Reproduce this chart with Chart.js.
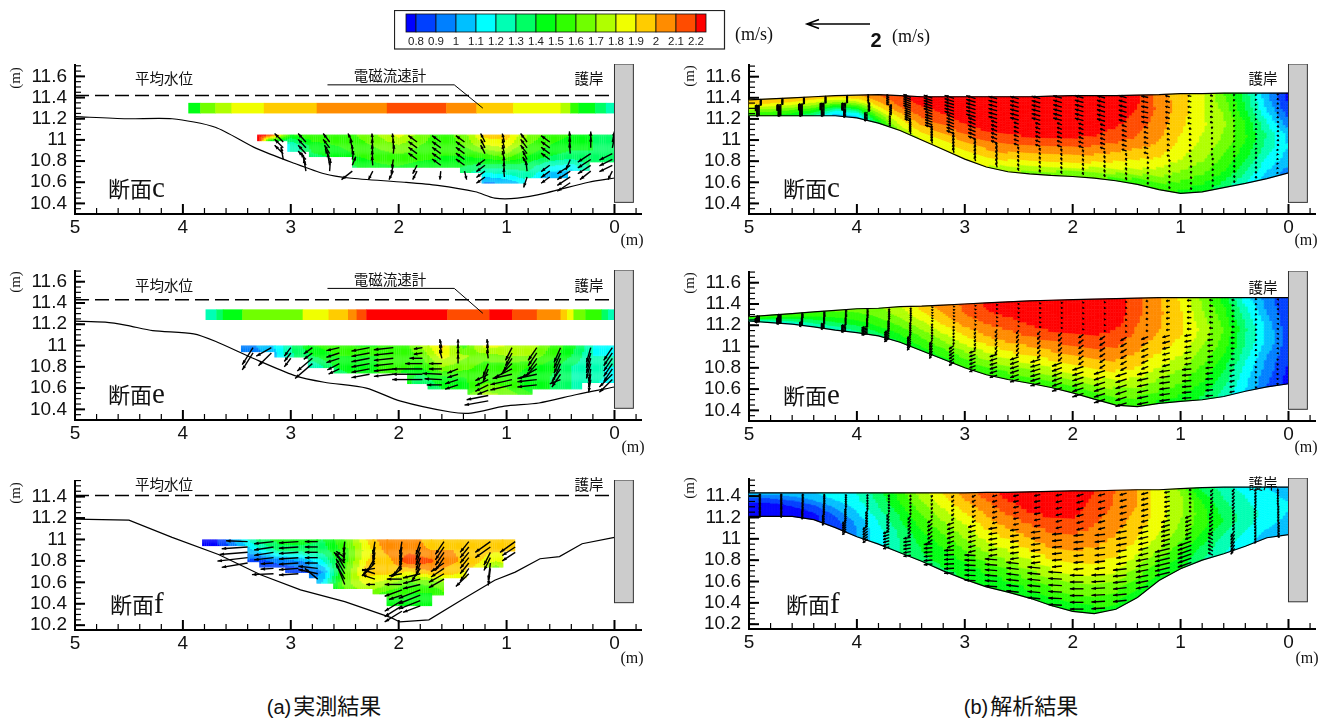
<!DOCTYPE html>
<html>
<head>
<meta charset="utf-8">
<script src="https://cdn.jsdelivr.net/npm/chart.js@4"></script>
<style>
  body { margin: 0; background: #fff; width: 1333px; height: 718px; position: relative; overflow: hidden; }
  canvas { position: absolute; }
  .t { position: absolute; white-space: nowrap; transform: translate(-50%, -50%); color: #111; }
  .jp { font-family: "Noto Sans CJK JP"; font-size: 14.5px; }
  .unit { font-family: "Liberation Serif"; font-size: 16px; }
  .sec { font-family: "Noto Sans CJK JP"; font-size: 22px; transform: translate(0, -50%); }
  .sec i { font-family: "Liberation Serif"; font-style: normal; font-size: 29px; }
  .cap { font-family: "Noto Sans CJK JP"; font-size: 22px; }
  .cap span { font-family: "Liberation Sans"; font-size: 20px; display: inline-block; margin-right: 2px; }
</style>
</head>
<body>
<script>
// colour key
const speedLevels = [0.8, 0.9, 1, 1.1, 1.2, 1.3, 1.4, 1.5, 1.6, 1.7, 1.8, 1.9, 2, 2.1, 2.2]
const speedColors = ['#0000ff', '#0040ff', '#0080ff', '#00c0ff', '#00ffff', '#00ffb4', '#00ff64', '#00ff14',
  '#30ff00', '#70ff00', '#b0ff00', '#f0ff00', '#ffcc00', '#ff8c00', '#ff4c00', '#ff0000']
const keySpeed = 2

// axis ticks
const xMajorTicks = [5, 4, 3, 2, 1, 0]
const xMinorTicks = [4.8, 4.6, 4.4, 4.2, 3.8, 3.6, 3.4, 3.2, 2.8, 2.6, 2.4, 2.2, 1.8, 1.6, 1.4, 1.2, 0.8, 0.6, 0.4, 0.2, -0.2]
const yMajorTicksTall = [11.6, 11.4, 11.2, 11, 10.8, 10.6, 10.4]
const yMajorTicksF = [11.4, 11.2, 11, 10.8, 10.6, 10.4, 10.2]

// model mesh stations (m from the revetment), flow arrows sit between them
const stations = [5, 4.8, 4.6, 4.4, 4.2, 4, 3.8, 3.6, 3.4, 3.2, 3, 2.8, 2.6, 2.4, 2.2, 2, 1.8, 1.6, 1.4, 1.2, 1, 0.8, 0.6, 0.4, 0.2, 0]
const arrowStations = [4.9, 4.7, 4.5, 4.3, 4.1, 3.9, 3.7, 3.5, 3.3, 3.1, 2.9, 2.7, 2.5, 2.3, 2.1, 1.9, 1.7, 1.5, 1.3, 1.1, 0.9, 0.7, 0.5, 0.3, 0.1]

// section c, model
const cSurface = [11.38, 11.39, 11.4, 11.41, 11.42, 11.425, 11.43, 11.42, 11.41, 11.41, 11.41, 11.41, 11.41, 11.41, 11.415, 11.42, 11.42, 11.42, 11.425, 11.43, 11.44, 11.44, 11.445, 11.445, 11.445, 11.445]
const cBed = [11.23, 11.23, 11.23, 11.23, 11.23, 11.21, 11.16, 11.09, 11, 10.91, 10.82, 10.745, 10.7, 10.68, 10.665, 10.655, 10.64, 10.615, 10.58, 10.53, 10.495, 10.51, 10.55, 10.59, 10.635, 10.69]
const cSpeed = [
  [2, 1.95, 1.9, 1.8, 1.7, 1.6, 1.5], [2, 1.95, 1.88, 1.78, 1.68, 1.58, 1.5], [2, 1.95, 1.85, 1.75, 1.62, 1.52, 1.45],
  [1.98, 1.9, 1.8, 1.68, 1.55, 1.42, 1.3], [1.95, 1.85, 1.7, 1.5, 1.3, 1.15, 1.05], [2, 1.9, 1.75, 1.55, 1.35, 1.15, 1.05],
  [2.1, 2.05, 1.95, 1.85, 1.7, 1.55, 1.4], [2.2, 2.15, 2.1, 2, 1.9, 1.82, 1.72], [2.25, 2.22, 2.15, 2.1, 2, 1.9, 1.8],
  [2.28, 2.25, 2.2, 2.12, 2.02, 1.9, 1.82], [2.28, 2.26, 2.24, 2.18, 2.05, 1.92, 1.82], [2.28, 2.27, 2.25, 2.2, 2.08, 1.92, 1.8],
  [2.28, 2.27, 2.26, 2.2, 2.08, 1.92, 1.72], [2.28, 2.27, 2.26, 2.22, 2.08, 1.9, 1.65], [2.28, 2.28, 2.26, 2.22, 2.08, 1.9, 1.62],
  [2.28, 2.28, 2.26, 2.22, 2.08, 1.9, 1.6], [2.27, 2.27, 2.25, 2.2, 2.05, 1.88, 1.6], [2.25, 2.25, 2.22, 2.15, 2, 1.85, 1.55],
  [2.22, 2.2, 2.15, 2.08, 1.95, 1.8, 1.5], [2.05, 2.08, 2.05, 2, 1.9, 1.75, 1.5], [1.95, 1.95, 1.92, 1.88, 1.8, 1.65, 1.48],
  [1.82, 1.82, 1.82, 1.78, 1.72, 1.6, 1.42], [1.6, 1.68, 1.72, 1.68, 1.6, 1.5, 1.35], [1.35, 1.4, 1.5, 1.52, 1.45, 1.35, 1.2],
  [1.02, 1.08, 1.2, 1.3, 1.25, 1.15, 1.05], [0.75, 0.8, 0.9, 1.05, 1.1, 1.05, 0.95]
]
const cFlowU = [[-0.08, 0.2, 0.15], [-0.08, 0.2, 0.15], [-0.08, 0.2, 0.15], [-0.08, 0.2, 0.15], [-0.08, 0.2, 0.12], [-0.05, -0.1, 0.15], [0.12, -0.1, -0.05],
  [0.3, 0.25, 0.05], [0.35, 0.3, 0.05], [0.38, 0.3, 0.05], [0.38, 0.3, 0.05], [0.35, 0.25, 0.05], [0.35, 0.2, 0.04], [0.35, 0.2, 0.04],
  [0.35, 0.2, 0.04], [0.35, 0.2, 0.04], [0.33, 0.2, 0.04], [0.32, 0.2, 0.04], [0.28, 0.18, 0.03], [0.18, 0.12, 0.03], [0.15, 0.1, 0.03],
  [0.12, 0.08, 0.02], [0.05, 0.04, 0.02], [0.03, 0.01, 0.01], [0, -0.02, 0.02]]
const cFlowV = [[-0.03, -0.03, -0.03], [-0.03, -0.03, -0.03], [-0.03, -0.03, -0.03], [-0.03, -0.03, -0.03], [-0.03, -0.03, -0.03], [0.05, 0.05, -0.03], [0.05, 0.08, 0.05],
  [0.12, 0.1, 0.2], [0.12, 0.1, 0.2], [0.12, 0.12, 0.2], [0.12, 0.12, 0.2], [0.1, 0.1, 0.2], [0.1, 0.08, 0.12], [0.1, 0.08, 0.12],
  [0.1, 0.08, 0.12], [0.1, 0.08, 0.12], [0.1, 0.08, 0.12], [0.1, 0.08, 0.12], [0.06, 0.06, 0.1], [0.05, 0.05, 0.1], [0.03, 0.05, 0.1],
  [0.03, 0.04, 0.1], [0.05, 0.05, 0.1], [0.06, 0.06, 0.1], [0.08, 0.08, 0.06]]

// section e, model
const eSurface = [11.28, 11.295, 11.31, 11.325, 11.34, 11.355, 11.36, 11.375, 11.38, 11.39, 11.4, 11.41, 11.42, 11.43, 11.435, 11.44, 11.445, 11.45, 11.455, 11.46, 11.46, 11.46, 11.46, 11.46, 11.46, 11.46]
const eBed = [11.24, 11.225, 11.21, 11.185, 11.155, 11.13, 11.1, 11.04, 10.96, 10.88, 10.8, 10.735, 10.69, 10.655, 10.615, 10.565, 10.505, 10.45, 10.435, 10.465, 10.485, 10.5, 10.53, 10.58, 10.62, 10.65]
const eSpeed = [
  [1.65, 1.62, 1.55, 1.5, 1.4, 1.3, 1.2], [1.6, 1.58, 1.5, 1.42, 1.35, 1.25, 1.2], [1.6, 1.55, 1.5, 1.42, 1.35, 1.25, 1.15],
  [1.6, 1.55, 1.5, 1.42, 1.35, 1.28, 1.2], [1.62, 1.58, 1.52, 1.45, 1.38, 1.3, 1.2], [1.62, 1.6, 1.55, 1.5, 1.42, 1.35, 1.28],
  [1.68, 1.65, 1.6, 1.55, 1.5, 1.42, 1.35], [1.78, 1.75, 1.7, 1.62, 1.55, 1.48, 1.4], [1.95, 1.88, 1.8, 1.72, 1.62, 1.55, 1.45],
  [2.05, 2, 1.92, 1.82, 1.7, 1.58, 1.48], [2.12, 2.1, 2.02, 1.9, 1.78, 1.62, 1.5], [2.22, 2.18, 2.08, 1.98, 1.82, 1.68, 1.5],
  [2.28, 2.22, 2.12, 2.02, 1.88, 1.7, 1.5], [2.28, 2.27, 2.18, 2.05, 1.9, 1.72, 1.5], [2.28, 2.28, 2.22, 2.08, 1.92, 1.75, 1.5],
  [2.28, 2.28, 2.22, 2.1, 1.95, 1.75, 1.5], [2.28, 2.28, 2.22, 2.1, 1.95, 1.75, 1.5], [2.28, 2.27, 2.18, 2.08, 1.92, 1.72, 1.48],
  [2.12, 2.12, 2.08, 2, 1.88, 1.7, 1.5], [2.02, 2.02, 2, 1.92, 1.8, 1.65, 1.48], [1.88, 1.92, 1.92, 1.85, 1.72, 1.6, 1.45],
  [1.68, 1.72, 1.78, 1.7, 1.6, 1.5, 1.38], [1.45, 1.55, 1.6, 1.55, 1.45, 1.35, 1.25], [1.15, 1.25, 1.32, 1.3, 1.22, 1.15, 1.1],
  [0.95, 1, 1.08, 1.08, 1, 0.95, 0.9], [0.8, 0.8, 0.82, 0.85, 0.82, 0.78, 0.75]
]
const eFlowU = [[0.15, 0.2, 0.2], [0.15, 0.2, 0.2], [0.05, 0.08, 0.15], [0.02, 0.05, 0.15], [0.02, 0.05, 0.2], [0.01, 0.05, 0.25], [0.01, 0.05, 0.2],
  [0.01, 0.04, 0.15], [0.01, 0.03, 0.12], [0.01, 0.03, 0.2], [0.02, 0.05, 0.25], [0.02, 0.08, 0.3], [0.02, 0.1, 0.35], [0.02, 0.12, 0.4],
  [0.02, 0.15, 0.4], [0.03, 0.2, 0.45], [0.03, 0.22, 0.45], [0.05, 0.25, 0.45], [0.1, 0.28, 0.45], [0.15, 0.3, 0.42], [0.18, 0.28, 0.38],
  [0.15, 0.22, 0.3], [0.12, 0.15, 0.2], [0.02, 0.02, 0.02], [-0.03, -0.02, 0.01]]
const eFlowV = [[-0.02, -0.03, -0.03], [-0.02, -0.03, -0.03], [-0.05, -0.05, -0.05], [-0.05, -0.05, -0.05], [-0.05, -0.05, -0.05], [-0.08, -0.08, -0.06], [-0.1, -0.15, -0.15],
  [-0.1, -0.15, -0.2], [-0.05, -0.1, -0.2], [-0.05, -0.1, -0.15], [-0.05, -0.12, -0.1], [-0.05, -0.15, -0.1], [-0.05, -0.15, -0.12], [-0.06, -0.15, -0.12],
  [-0.05, -0.15, -0.15], [-0.05, -0.15, -0.15], [-0.05, -0.15, -0.15], [-0.05, -0.15, -0.15], [-0.02, -0.12, -0.1], [-0.02, -0.08, -0.06], [0, -0.05, -0.03],
  [0.02, -0.03, -0.03], [0.02, 0, -0.05], [0.08, 0.08, -0.08], [0.06, 0.05, -0.08]]

// section f, model
const fSurface = [11.43, 11.43, 11.43, 11.43, 11.43, 11.43, 11.43, 11.43, 11.43, 11.43, 11.43, 11.435, 11.435, 11.44, 11.445, 11.45, 11.45, 11.455, 11.46, 11.46, 11.47, 11.48, 11.485, 11.485, 11.485, 11.485]
const fBed = [11.21, 11.21, 11.21, 11.18, 11.105, 11.02, 10.95, 10.87, 10.79, 10.7, 10.62, 10.55, 10.5, 10.445, 10.375, 10.32, 10.3, 10.34, 10.45, 10.61, 10.72, 10.8, 10.86, 10.93, 11.01, 11.04]
const fSpeed = [
  [1.05, 0.95, 0.85, 0.75, 0.75, 0.75, 0.75], [1.05, 0.95, 0.85, 0.78, 0.75, 0.75, 0.75], [1.08, 1, 0.9, 0.82, 0.78, 0.75, 0.75],
  [1.1, 1.05, 0.98, 0.88, 0.82, 0.78, 0.78], [1.15, 1.12, 1.05, 0.98, 0.9, 0.85, 0.85], [1.2, 1.18, 1.12, 1.08, 1.02, 1, 1],
  [1.35, 1.32, 1.28, 1.22, 1.18, 1.15, 1.15], [1.55, 1.5, 1.42, 1.38, 1.32, 1.3, 1.3], [1.75, 1.68, 1.6, 1.52, 1.45, 1.4, 1.38],
  [1.92, 1.82, 1.72, 1.62, 1.52, 1.45, 1.38], [2.05, 1.95, 1.82, 1.72, 1.6, 1.48, 1.4], [2.15, 2.05, 1.95, 1.82, 1.68, 1.52, 1.4],
  [2.25, 2.15, 2.02, 1.88, 1.72, 1.55, 1.4], [2.28, 2.22, 2.08, 1.95, 1.78, 1.6, 1.42], [2.28, 2.25, 2.12, 2, 1.82, 1.62, 1.42],
  [2.28, 2.25, 2.12, 2, 1.82, 1.62, 1.42], [2.2, 2.15, 2.08, 1.98, 1.85, 1.62, 1.45], [2.1, 2.08, 2.02, 1.95, 1.82, 1.62, 1.45],
  [2, 2, 1.95, 1.88, 1.75, 1.6, 1.45], [1.85, 1.85, 1.85, 1.8, 1.7, 1.55, 1.45], [1.68, 1.75, 1.72, 1.68, 1.6, 1.5, 1.42],
  [1.35, 1.48, 1.55, 1.55, 1.48, 1.38, 1.3], [1.25, 1.3, 1.35, 1.4, 1.32, 1.25, 1.2], [1.15, 1.2, 1.22, 1.25, 1.22, 1.18, 1.12],
  [1.1, 1.12, 1.15, 1.18, 1.15, 1.1, 1.05], [1.05, 1.08, 1.1, 1.1, 1.08, 1.05, 1]
]
const fFlowU = [[0, 0, 0], [0.01, 0.01, 0.01], [0.02, 0.03, 0.05], [0.02, 0.05, 0.1], [0.02, 0.05, 0.15], [0.02, 0.08, 0.2], [0.03, 0.1, 0.25],
  [0.03, 0.12, 0.3], [0.05, 0.2, 0.35], [0.1, 0.28, 0.4], [0.15, 0.3, 0.45], [0.2, 0.35, 0.5], [0.22, 0.35, 0.5], [0.25, 0.38, 0.52],
  [0.25, 0.4, 0.55], [0.28, 0.4, 0.55], [0.28, 0.42, 0.55], [0.28, 0.42, 0.55], [0.28, 0.4, 0.5], [0.22, 0.35, 0.6], [0.1, 0.25, 0.55],
  [0.1, 0.15, 0.2], [0.1, 0.08, 0.15], [0.05, 0.08, 0.06], [-0.01, -0.04, -0.06]]
const fFlowV = [[-0.08, -0.08, -0.08], [-0.08, -0.08, -0.08], [-0.08, -0.08, -0.08], [-0.1, -0.1, -0.1], [-0.1, -0.15, -0.15], [-0.1, -0.15, -0.15], [-0.1, -0.15, -0.08],
  [-0.1, -0.15, -0.05], [-0.1, -0.15, -0.03], [-0.1, -0.1, -0.02], [-0.08, -0.08, 0.02], [-0.06, -0.06, 0.04], [-0.05, -0.05, 0.06], [-0.05, -0.05, 0.05],
  [-0.06, -0.04, 0.03], [-0.08, -0.04, 0], [-0.08, -0.05, -0.03], [-0.08, -0.08, -0.06], [-0.08, -0.1, -0.1], [-0.05, -0.1, -0.15], [0.02, -0.1, -0.2],
  [-0.12, -0.12, 0.1], [-0.12, -0.12, -0.25], [-0.12, -0.12, -0.12], [-0.12, -0.12, -0.12]]

// measured bed lines
const cBedX = [5, 4.52, 4.1, 3.7, 3.32, 2.97, 2.69, 2.46, 1.95, 1.64, 1.29, 1.11, 0.9, 0.63, 0.24, 0]
const cBedY = [11.22, 11.2, 11.2, 11.12, 10.92, 10.78, 10.68, 10.64, 10.6, 10.57, 10.51, 10.45, 10.45, 10.5, 10.6, 10.64]
const eBedX = [5, 4.72, 4.52, 4.28, 3.9, 3.7, 3.35, 2.97, 2.69, 2.3, 1.99, 1.52, 1.33, 1.02, 0.7, 0.35, 0]
const eBedY = [11.23, 11.22, 11.19, 11.14, 11.11, 11.04, 10.88, 10.72, 10.655, 10.6, 10.48, 10.375, 10.365, 10.43, 10.46, 10.54, 10.61]
const fBedX = [5, 4.5, 4.1, 3.67, 3.28, 2.91, 2.5, 2.07, 1.99, 1.72, 1.41, 1.11, 0.92, 0.69, 0.51, 0.3, 0]
const fBedY = [11.19, 11.18, 11.02, 10.86, 10.67, 10.53, 10.42, 10.27, 10.23, 10.25, 10.44, 10.62, 10.695, 10.82, 10.84, 10.96, 11.02]

// current meter strip near the surface
const cStripEdges = [3.95, 3.84, 3.7, 3.55, 3.25, 2.76, 2.11, 1.56, 1.28, 0.94, 0.5, 0.41, 0.335, 0.18, 0.08, 0]
const cStripSpeed = [1.45, 1.6, 1.7, 1.85, 1.95, 2.05, 2.15, 2.05, 1.95, 1.85, 1.7, 1.55, 1.45, 1.35, 1.25]
const eStripEdges = [3.79, 3.69, 3.63, 3.45, 2.89, 2.65, 2.47, 2.39, 2.3, 1.55, 1.16, 0.95, 0.72, 0.5, 0.44, 0.38, 0.27, 0.12, 0.06, 0]
const eStripSpeed = [1.2, 1.3, 1.45, 1.65, 1.82, 1.95, 2.05, 2.15, 2.25, 2.15, 2.25, 2.15, 2.05, 1.95, 1.85, 1.65, 1.5, 1.35, 1.2]

// measured speed tables, one line per x node, top level first
const cMeasX = [0, 0.2, 0.4, 0.6, 0.8, 1, 1.2, 1.4, 1.6, 1.8, 2, 2.2, 2.4, 2.6, 2.8, 3, 3.2, 3.3]
const cMeasLevels = [11.05, 10.95, 10.85, 10.75, 10.65, 10.55]
const cMeasSpeed = [
  [1.3, 1.3, 1.35, 1.4, 1.4, 1.4], [1.4, 1.4, 1.4, 1.35, 1.3, 1.3], [1.5, 1.45, 1.35, 1.15, 1, 1], [1.55, 1.5, 1.4, 1.2, 1, 1],
  [1.7, 1.6, 1.5, 1.35, 1.25, 1.1], [1.95, 1.85, 1.65, 1.35, 1.15, 0.9], [1.95, 1.8, 1.55, 1.35, 1.1, 0.9], [1.65, 1.6, 1.5, 1.4, 1.3, 1.3],
  [1.55, 1.55, 1.5, 1.45, 1.4, 1.4], [1.65, 1.6, 1.55, 1.45, 1.4, 1.4], [1.85, 1.7, 1.58, 1.5, 1.45, 1.45], [1.7, 1.62, 1.55, 1.48, 1.45, 1.45],
  [1.6, 1.55, 1.5, 1.4, 1.4, 1.4], [1.6, 1.5, 1.42, 1.3, 1.3, 1.3], [1.6, 1.45, 1.38, 1.3, 1.3, 1.3], [1.5, 1.2, 1.2, 1.2, 1.2, 1.2],
  [2.25, 0.9, 1.2, 1.2, 1.2, 1.2], [2.25, 2.25, 1.2, 1.2, 1.2, 1.2]
]
const cMeasEdges = [0, 0.23, 0.43, 0.83, 1.23, 1.43, 2.43, 2.83, 3.03, 3.3]
const cMeasBottom = [10.8, 10.72, 10.65, 10.6, 10.7, 10.75, 10.85, 10.9, 11]

const eMeasX = [0, 0.2, 0.4, 0.6, 0.8, 1, 1.2, 1.4, 1.6, 1.8, 2, 2.2, 2.4, 2.6, 2.8, 3, 3.2, 3.45]
const eMeasLevels = [11, 10.9, 10.8, 10.7, 10.6, 10.5]
const eMeasSpeed = [
  [1.15, 1.2, 1.2, 1.15, 1.1, 1.1], [1.2, 1.2, 1.2, 1.25, 1.2, 1.2], [1.45, 1.4, 1.3, 1.3, 1.3, 1.3], [1.6, 1.55, 1.45, 1.4, 1.4, 1.4],
  [1.8, 1.7, 1.5, 1.45, 1.45, 1.6], [1.8, 1.7, 1.55, 1.55, 1.6, 1.75], [1.85, 1.65, 1.55, 1.55, 1.65, 1.8], [1.55, 1.72, 1.65, 1.5, 1.45, 1.6],
  [1.95, 1.85, 1.7, 1.48, 1.4, 1.4], [1.7, 1.6, 1.5, 1.35, 1.3, 1.3], [1.5, 1.55, 1.52, 1.5, 1.5, 1.5], [1.5, 1.5, 1.5, 1.5, 1.5, 1.5],
  [1.5, 1.5, 1.48, 1.4, 1.4, 1.4], [1.55, 1.5, 1.4, 1.3, 1.3, 1.3], [1.5, 1.4, 1.2, 1.2, 1.2, 1.2], [1.3, 1.28, 1.25, 1.2, 1.2, 1.2],
  [1.05, 1, 1.2, 1.2, 1.2, 1.2], [0.95, 0.95, 1.2, 1.2, 1.2, 1.2]
]
const eMeasEdges = [0, 0.3, 0.76, 1.35, 1.72, 1.92, 2.6, 2.83, 3.14, 3.45]
const eMeasBottom = [10.66, 10.6, 10.55, 10.6, 10.65, 10.75, 10.8, 10.9, 10.95]

const fMeasX = [0.9, 1.1, 1.3, 1.5, 1.7, 1.9, 2.1, 2.3, 2.5, 2.7, 2.9, 3.1, 3.3, 3.5, 3.7, 3.82]
const fMeasLevels = [11, 10.9, 10.8, 10.7, 10.6, 10.5, 10.4]
const fMeasSpeed = [
  [1.95, 1.95, 1.95, 1.9, 1.9, 1.9, 1.9], [1.95, 1.92, 1.8, 1.55, 1.55, 1.55, 1.55], [2, 1.95, 1.95, 1.85, 1.8, 1.8, 1.8], [1.95, 2, 2.02, 1.95, 1.75, 1.65, 1.65],
  [1.95, 2, 2.12, 2, 1.65, 1.5, 1.45], [2.05, 2.05, 2.2, 1.9, 1.6, 1.5, 1.45], [2.1, 2.05, 1.95, 1.95, 1.75, 1.55, 1.45], [1.9, 1.85, 1.9, 1.95, 1.85, 1.7, 1.6],
  [1.6, 1.55, 1.55, 1.6, 1.65, 1.6, 1.6], [1.4, 1.35, 1.2, 1, 1.1, 1.4, 1.4], [1.45, 1.35, 1, 0.85, 0.9, 0.9, 0.9], [1.45, 1.35, 0.95, 0.8, 0.8, 0.8, 0.8],
  [1.35, 1.15, 0.85, 0.8, 0.8, 0.8, 0.8], [1.05, 0.95, 0.9, 0.8, 0.8, 0.8, 0.8], [0.78, 0.75, 0.75, 0.75, 0.75, 0.75, 0.75], [0.75, 0.75, 0.75, 0.75, 0.75, 0.75, 0.75]
]
const fMeasEdges = [0.92, 1.03, 1.37, 1.58, 1.69, 2.1, 2.225, 2.6, 2.75, 2.83, 3.05, 3.28, 3.4, 3.81]
const fMeasBottom = [10.9, 10.75, 10.65, 10.49, 10.39, 10.5, 10.55, 10.6, 10.65, 10.695, 10.745, 10.8, 10.945]

// measured arrows, each column lists its arrows from the top level downward
const cArrowX = [3.07, 2.86, 2.64, 2.43, 2.24, 2.05, 1.83, 1.61, 1.39, 1.2, 1.02, 0.81, 0.6, 0.41, 0.22, 0.02]
const cArrowU = [[0.2, 0.2, 0.2, 0.05], [0.18, 0.18, 0.18, 0.18, 0.1, 0.05], [0.15, 0.15, 0.12, 0.1, 0.05, -0.02], [0.1, 0.05, 0, -0.03, -0.08, 0.25],
  [0.02, 0.02, 0.02, 0.02, 0.02, 0.1], [0.02, 0, -0.02, 0.03, 0.05, 0.1], [0.2, 0.2, 0.2, 0.2, 0.1, 0.1], [0.2, 0.2, 0.2, 0.2, 0.2, 0.02],
  [0.2, 0.2, 0.2, 0.2, 0.2, -0.05], [0.1, 0.1, 0.1, 0.2, 0.2, 0.2, 0.2], [0.05, 0.05, 0.05, 0.05, 0.02, 0.02, 0.02], [0.15, 0.15, 0.15, 0.1, 0.1, 0.03, 0.08],
  [0.2, 0.2, 0.2, 0.2, 0.2, 0.2, 0.2], [0.02, 0.02, 0.02, 0.1, 0.3, 0.3, 0.3, 0.3], [0, 0, 0.3, 0.3, 0.3, 0.25], [-0.05, -0.05, 0.3, 0.3, 0.3, 0.1]]
const cArrowV = [[0.2, 0.2, 0.2, 0.3], [0.2, 0.2, 0.2, 0.2, 0.3, 0.3], [0.2, 0.2, 0.2, 0.25, 0.3, 0.3], [0.2, 0.2, 0.2, 0.2, 0.2, -0.2],
  [0.2, 0.2, 0.2, 0.2, 0.2, -0.2], [0.2, 0.2, 0.2, -0.2, -0.2, -0.2], [0.15, 0.15, 0.15, 0.15, -0.2, -0.2], [0.15, 0.15, 0.15, 0.15, 0.15, -0.2],
  [0.15, 0.15, 0.15, 0.15, 0.15, -0.2], [0.2, 0.2, 0.2, -0.15, -0.15, -0.15, -0.15], [0.2, 0.2, 0.2, 0.2, 0.2, 0.2, 0.2], [0.2, 0.2, 0.2, 0.2, 0.2, 0.25, -0.25],
  [0.15, 0.15, 0.15, 0.15, -0.15, -0.15, -0.15], [0.25, 0.25, 0.25, -0.25, -0.2, -0.2, -0.2, -0.2], [0.25, 0.25, -0.2, -0.2, -0.2, -0.2], [0.25, 0.25, -0.15, -0.15, -0.15, -0.2]]

const eArrowX = [3.35, 3.18, 3, 2.8, 2.55, 2.27, 2.05, 1.78, 1.6, 1.45, 1.17, 0.95, 0.72, 0.5, 0.22, 0.02]
const eArrowU = [[0.25, 0.25], [0.35, 0.3], [0.15, 0.15, 0.15], [0.2, 0.2, 0.35, 0.4], [0.3, 0.3, 0.3, 0.28, 0.25], [0.42, 0.42, 0.42, 0.42, 0.42, 0.42], [0.45, 0.45, 0.45, 0.45, 0.45, 0.45],
  [0.2, 0.2, 0.3, 0.4, 0.7, 0.7, 0.7], [0.05, 0.05, 0.05, 0.3, 0.3, 0.45, 0.4, 0.35], [0, 0, 0, 0, 0.25, 0.25, 0.3, 0.3], [0.03, 0.03, 0.03, 0.12, 0.12, 0.3, 0.3, 0.3, 0.25, 0.5, 0.55],
  [0.15, 0.15, 0.2, 0.25, 0.4, 0.45, 0.5, 0.5], [0.2, 0.2, 0.2, 0.25, 0.35, 0.45, 0.45, 0.45], [0.15, 0.15, 0.15, 0.15, 0.2, 0.2, 0.25], [0.1, 0.1, 0.1, 0.1, 0.05, 0.05, 0.05], [0.2, 0.2, 0.2, 0.2, 0.2, 0.3, 0.3]]
const eArrowV = [[-0.4, -0.4], [-0.2, -0.3], [-0.2, -0.2, -0.2], [-0.15, -0.15, -0.3, -0.35], [-0.07, -0.1, -0.1, -0.15, -0.12], [-0.08, -0.08, -0.08, -0.08, -0.08, -0.08], [-0.05, -0.05, -0.05, -0.05, -0.05, -0.05],
  [-0.03, -0.03, 0, 0, 0, 0, 0], [0.2, 0.2, 0.2, 0, 0, 0.02, 0.02, 0], [0.2, 0.2, 0.2, 0.2, -0.1, -0.08, -0.1, -0.1], [0.2, 0.2, 0.2, -0.3, -0.3, -0.15, -0.15, -0.15, -0.1, -0.1, -0.1],
  [-0.3, -0.3, -0.3, -0.25, -0.2, -0.1, -0.12, -0.12], [-0.3, -0.3, -0.3, -0.3, -0.2, -0.1, -0.05, -0.05], [-0.35, -0.35, -0.35, -0.35, -0.3, -0.3, -0.1], [-0.35, -0.35, -0.35, -0.35, -0.3, -0.3, -0.3], [-0.3, -0.3, -0.3, -0.3, -0.3, -0.3, -0.3]]

const fArrowX = [3.4, 3.16, 2.93, 2.75, 2.5, 2.22, 1.97, 1.8, 1.58, 1.35, 1.15, 0.92]
const fArrowU = [[0.5, 0.6, 0.65, 0.7, 0.6], [0.45, 0.45, 0.45, 0.45, 0.3, 0.3, 0.5], [0.45, 0.45, 0.45, 0.45, 0.45, 0.45, 0.45], [0.3, 0.3, 0.3, 0.3, 0.3, 0.45, 0.45, 0.3],
  [0.03, 0.03, 0.03, 0.2, 0.25, 0.2, 0.2, 0.2, 0.2], [0.05, 0.05, 0.05, 0.2, 0.3, 0.3, 0.3, 0.3, 0.2], [0.05, 0.05, 0.05, 0.05, 0.2, 0.25, 0.3, 0.35, 0.4, 0.4, 0.3, 0.4, 0.4, 0.4],
  [0.1, 0.1, 0.1, 0.1, 0.1, 0.2, 0.4, 0.4, 0.4, 0.5, 0.5, 0.5, 0.4], [0.2, 0.2, 0.2, 0.2, 0.3, 0.3, 0.35, 0.35], [0.2, 0.2, 0.2, 0.2, 0.2, 0.2, 0.3], [0.35, 0.35, 0.15, 0.15, 0.05, 0.05], [0.35, 0.3, 0.3]]
const fArrowV = [[0.02, -0.04, -0.05, -0.08, -0.1], [-0.05, -0.07, -0.07, -0.05, -0.02, -0.02, -0.02], [-0.03, -0.03, -0.03, -0.03, -0.03, -0.03, -0.03], [0, 0, 0, 0, 0, 0.05, 0.1, 0.25],
  [-0.25, -0.25, -0.25, 0.15, 0.25, 0.35, 0.35, 0.35, 0.5], [-0.3, -0.3, -0.3, -0.35, -0.3, -0.05, 0.1, 0.1, 0], [-0.3, -0.3, -0.3, -0.3, -0.3, -0.2, -0.05, 0, 0, -0.15, -0.1, -0.25, -0.25, -0.25],
  [-0.3, -0.3, -0.3, -0.3, -0.3, -0.3, -0.1, -0.1, -0.1, -0.2, -0.2, -0.2, -0.15], [-0.3, -0.3, -0.3, -0.3, -0.2, -0.2, -0.2, -0.2], [-0.25, -0.25, -0.25, -0.25, -0.25, -0.3, -0.3], [-0.25, -0.25, -0.3, -0.3, -0.4, -0.4], [-0.25, -0.2, -0.2]]

// dashed mean water level
const cWaterLevel = 11.42
const eWaterLevel = 11.43
const fWaterLevel = 11.41

// how far an arrow of 1 m/s reaches on the axes, in metres
const MODEL_ARROW_SCALE = 0.23
const MEASURED_ARROW_SCALE = 0.4
const KEY_ARROW_PX = 63

const bandColor = s => {
  let k = 0
  while (k < speedLevels.length && s >= speedLevels[k]) k++
  return speedColors[k]
}

const drawArrow = (ctx, x0, y0, x1, y1, lw) => {
  const len = Math.hypot(x1 - x0, y1 - y0)
  if (len < 0.5) return
  const h = Math.min(4.5, Math.max(1.6, len * 0.4))
  const ux = (x1 - x0) / len
  const uy = (y1 - y0) / len
  ctx.lineWidth = lw
  ctx.beginPath()
  ctx.moveTo(x0, y0)
  ctx.lineTo(x1, y1)
  ctx.stroke()
  ctx.beginPath()
  ctx.moveTo(x1, y1)
  ctx.lineTo(x1 - ux * h - uy * 1.7, y1 - uy * h + ux * 1.7)
  ctx.lineTo(x1 - ux * h + uy * 1.7, y1 - uy * h - ux * 1.7)
  ctx.fill()
}

const drawModelField = (chart, p) => {
  const { ctx, scales: { x, y } } = chart
  const rows = p.speed[0].length - 1
  const nx = 8
  const ny = 5
  for (let i = 0; i < stations.length - 1; i++) {
    for (let j = 0; j < rows; j++) {
      for (let a = 0; a < nx; a++) {
        for (let b = 0; b < ny; b++) {
          const s0 = a / nx
          const s1 = (a + 1) / nx
          const t0 = (j + b / ny) / rows
          const t1 = (j + (b + 1) / ny) / rows
          const sm = (s0 + s1) / 2
          const tm = (b + 0.5) / ny
          const v0 = p.speed[i][j] * (1 - tm) + p.speed[i][j + 1] * tm
          const v1 = p.speed[i + 1][j] * (1 - tm) + p.speed[i + 1][j + 1] * tm
          const col = bandColor(v0 * (1 - sm) + v1 * sm)
          const px = s => x.getPixelForValue(stations[i] + (stations[i + 1] - stations[i]) * s)
          const py = (s, t) => {
            const top = p.surface[i] + (p.surface[i + 1] - p.surface[i]) * s
            const bed = p.bed[i] + (p.bed[i + 1] - p.bed[i]) * s
            return y.getPixelForValue(top + (bed - top) * t)
          }
          ctx.fillStyle = col
          ctx.strokeStyle = col
          ctx.lineWidth = 0.6
          ctx.beginPath()
          ctx.moveTo(px(s0), py(s0, t0))
          ctx.lineTo(px(s1), py(s1, t0))
          ctx.lineTo(px(s1), py(s1, t1))
          ctx.lineTo(px(s0), py(s0, t1))
          ctx.closePath()
          ctx.fill()
          ctx.stroke()
        }
      }
    }
  }
}

const drawModelArrows = (chart, p) => {
  const { ctx, scales: { x, y } } = chart
  const levels = 18
  ctx.strokeStyle = '#000'
  ctx.fillStyle = '#000'
  arrowStations.forEach((st, i) => {
    const top = (p.surface[i] + p.surface[i + 1]) / 2
    const bed = (p.bed[i] + p.bed[i + 1]) / 2
    for (let k = 0; k < levels; k++) {
      const t = (k + 0.5) / levels
      const zone = Math.min(2, Math.floor(t * 3))
      const yy = top + (bed - top) * t
      drawArrow(ctx, x.getPixelForValue(st), y.getPixelForValue(yy),
        x.getPixelForValue(st + p.flowU[i][zone] * MODEL_ARROW_SCALE),
        y.getPixelForValue(yy + p.flowV[i][zone] * MODEL_ARROW_SCALE), 1.4)
    }
  })
}

const drawMeasuredField = (chart, p) => {
  const { ctx, scales: { x, y } } = chart
  const lookup = (vx, vy) => {
    let i = 0
    while (i < p.measX.length - 2 && vx > p.measX[i + 1]) i++
    let j = 0
    while (j < p.levels.length - 2 && vy < p.levels[j + 1]) j++
    const s = Math.min(1, Math.max(0, (vx - p.measX[i]) / (p.measX[i + 1] - p.measX[i])))
    const t = Math.min(1, Math.max(0, (p.levels[j] - vy) / (p.levels[j] - p.levels[j + 1])))
    const a = p.measSpeed[i][j] * (1 - t) + p.measSpeed[i][j + 1] * t
    const b = p.measSpeed[i + 1][j] * (1 - t) + p.measSpeed[i + 1][j + 1] * t
    return a * (1 - s) + b * s
  }
  const dx = 0.02
  const dy = 0.01
  p.edges.slice(0, -1).forEach((e, c) => {
    for (let vx = e; vx < p.edges[c + 1]; vx += dx) {
      for (let vy = p.levels[0]; vy > p.bottom[c]; vy -= dy) {
        const x0 = x.getPixelForValue(vx + dx + 0.002)
        const x1 = x.getPixelForValue(vx)
        const y0 = y.getPixelForValue(vy)
        const y1 = y.getPixelForValue(vy - dy - 0.002)
        ctx.fillStyle = bandColor(lookup(vx + dx / 2, vy - dy / 2))
        ctx.fillRect(x0, y0, x1 - x0, y1 - y0)
      }
    }
  })
  if (p.stripEdges) {
    p.stripSpeed.forEach((s, k) => {
      const x0 = x.getPixelForValue(p.stripEdges[k])
      const x1 = x.getPixelForValue(p.stripEdges[k + 1])
      const y0 = y.getPixelForValue(p.stripTop)
      const y1 = y.getPixelForValue(p.stripTop - 0.1)
      ctx.fillStyle = bandColor(s)
      ctx.fillRect(x0, y0, x1 - x0 + 0.5, y1 - y0)
    })
  }
}

const drawMeasuredArrows = (chart, p) => {
  const { ctx, scales: { x, y } } = chart
  ctx.strokeStyle = '#000'
  ctx.fillStyle = '#000'
  p.arrowX.forEach((ax, c) => {
    p.arrowU[c].forEach((u, k) => {
      const ay = p.arrowTop - k * p.arrowStep
      drawArrow(ctx, x.getPixelForValue(ax), y.getPixelForValue(ay),
        x.getPixelForValue(ax + u * MEASURED_ARROW_SCALE),
        y.getPixelForValue(ay + p.arrowV[c][k] * MEASURED_ARROW_SCALE), 1.4)
    })
  })
}

const tick = (ctx, x, y, dx, dy) => {
  ctx.beginPath()
  ctx.moveTo(x, y)
  ctx.lineTo(x + dx, y + dy)
  ctx.stroke()
}

const panelPlugin = p => ({
  id: 'panelMarks',
  beforeDatasetsDraw (chart) {
    if (p.speed) drawModelField(chart, p)
    if (p.measSpeed) drawMeasuredField(chart, p)
  },
  afterDatasetsDraw (chart) {
    const { ctx, scales: { x, y }, chartArea } = chart
    if (p.speed) drawModelArrows(chart, p)
    if (p.measSpeed) drawMeasuredArrows(chart, p)
    // revetment
    const wx0 = x.getPixelForValue(0)
    const wx1 = x.getPixelForValue(-0.175)
    const wy1 = y.getPixelForValue(10.41)
    ctx.fillStyle = '#cccccc'
    ctx.strokeStyle = '#333'
    ctx.lineWidth = 1
    ctx.fillRect(wx0, chartArea.top, wx1 - wx0, wy1 - chartArea.top)
    ctx.strokeRect(wx0, chartArea.top, wx1 - wx0, wy1 - chartArea.top)
  },
  afterDraw (chart) {
    const { ctx, scales: { x, y }, chartArea } = chart
    // inward tick marks
    ctx.save()
    ctx.setLineDash([])
    ctx.strokeStyle = '#000'
    ctx.lineWidth = 1.2
    xMinorTicks.forEach(v => tick(ctx, x.getPixelForValue(v), chartArea.bottom, 0, -6))
    ctx.lineWidth = 2
    xMajorTicks.forEach(v => tick(ctx, x.getPixelForValue(v), chartArea.bottom, 0, -10))
    ctx.lineWidth = 1.2
    for (let v = Math.ceil(y.min * 20) / 20; v < y.max; v += 0.05) {
      tick(ctx, chartArea.left, y.getPixelForValue(v), 6, 0)
    }
    ctx.lineWidth = 2
    p.yTicks.forEach(v => tick(ctx, chartArea.left, y.getPixelForValue(v), 10, 0))
    ctx.restore()
  }
})

const line = (xs, ys, extra) => ({
  data: xs.map((v, i) => ({ x: v, y: ys[i] })),
  showLine: true,
  pointRadius: 0,
  borderColor: '#000',
  borderWidth: 1.2,
  ...extra
})

const makePanel = p => {
  const canvas = document.createElement('canvas')
  const labelW = 70
  const labelH = 30
  canvas.width = labelW + p.w
  canvas.height = p.h + labelH
  canvas.style.left = (p.left - labelW) + 'px'
  canvas.style.top = p.top + 'px'
  document.body.appendChild(canvas)
  new Chart(canvas, {
    type: 'scatter',
    data: { datasets: p.datasets },
    options: {
      responsive: false,
      animation: false,
      layout: { padding: 0 },
      plugins: { legend: { display: false }, tooltip: { enabled: false } },
      scales: {
        x: {
          type: 'linear',
          reverse: true,
          min: -0.255,
          max: 5,
          afterBuildTicks: s => { s.ticks = xMajorTicks.map(v => ({ value: v })) },
          afterFit: s => { s.height = labelH; s.paddingLeft = 0; s.paddingRight = 0 },
          grid: { drawOnChartArea: false, drawTicks: false },
          border: { color: '#000', width: 2 },
          ticks: { color: '#111', padding: 2, maxRotation: 0, autoSkip: false, font: { family: 'Liberation Sans', size: 19 } }
        },
        y: {
          min: p.yMin,
          max: p.yMax,
          afterBuildTicks: s => { s.ticks = p.yTicks.map(v => ({ value: v })) },
          afterFit: s => { s.width = labelW; s.paddingTop = 0; s.paddingBottom = 0 },
          grid: { drawOnChartArea: false, drawTicks: false },
          border: { color: '#000', width: 2 },
          ticks: { color: '#111', padding: 8, autoSkip: false, callback: v => String(+v.toFixed(1)), font: { family: 'Liberation Sans', size: 19 } }
        }
      }
    },
    plugins: [panelPlugin(p)]
  })
}

const modelDatasets = (surface, bed) => [line(stations, surface), line(stations, bed)]
const measuredDatasets = (bx, by, level, leader, tension) => {
  const sets = [line(bx, by, { tension }), line([5, 0], [level, level], { borderDash: [14, 6], borderWidth: 1.5 })]
  if (leader) sets.push(line([2.66, 1.485, 1.22], leader, { borderWidth: 1 }))
  return sets
}

const panelW = 567
const panelH = 150

makePanel({ left: 75, top: 64, w: panelW, h: panelH, yMin: 10.3, yMax: 11.717, yTicks: yMajorTicksTall,
  datasets: measuredDatasets(cBedX, cBedY, cWaterLevel, [11.52, 11.52, 11.3], 0.25),
  measX: cMeasX, levels: cMeasLevels, measSpeed: cMeasSpeed, edges: cMeasEdges, bottom: cMeasBottom,
  stripEdges: cStripEdges, stripSpeed: cStripSpeed, stripTop: 11.35,
  arrowX: cArrowX, arrowU: cArrowU, arrowV: cArrowV, arrowTop: 10.98, arrowStep: 0.055 })
makePanel({ left: 75, top: 270, w: panelW, h: panelH, yMin: 10.3, yMax: 11.71, yTicks: yMajorTicksTall,
  datasets: measuredDatasets(eBedX, eBedY, eWaterLevel, [11.537, 11.537, 11.303], 0.25),
  measX: eMeasX, levels: eMeasLevels, measSpeed: eMeasSpeed, edges: eMeasEdges, bottom: eMeasBottom,
  stripEdges: eStripEdges, stripSpeed: eStripSpeed, stripTop: 11.34,
  arrowX: eArrowX, arrowU: eArrowU, arrowV: eArrowV, arrowTop: 10.98, arrowStep: 0.05 })
makePanel({ left: 75, top: 480, w: panelW, h: panelH, yMin: 10.155, yMax: 11.555, yTicks: yMajorTicksF,
  datasets: measuredDatasets(fBedX, fBedY, fWaterLevel, null, 0),
  measX: fMeasX, levels: fMeasLevels, measSpeed: fMeasSpeed, edges: fMeasEdges, bottom: fMeasBottom,
  arrowX: fArrowX, arrowU: fArrowU, arrowV: fArrowV, arrowTop: 10.98, arrowStep: 0.05 })

makePanel({ left: 749, top: 64, w: panelW, h: panelH, yMin: 10.3, yMax: 11.72, yTicks: yMajorTicksTall,
  datasets: modelDatasets(cSurface, cBed), speed: cSpeed, surface: cSurface, bed: cBed, flowU: cFlowU, flowV: cFlowV })
makePanel({ left: 749, top: 271, w: panelW, h: panelH, yMin: 10.3, yMax: 11.71, yTicks: yMajorTicksTall,
  datasets: modelDatasets(eSurface, eBed), speed: eSpeed, surface: eSurface, bed: eBed, flowU: eFlowU, flowV: eFlowV })
makePanel({ left: 749, top: 478, w: panelW, h: panelH + 1, yMin: 10.155, yMax: 11.57, yTicks: yMajorTicksF,
  datasets: modelDatasets(fSurface, fBed), speed: fSpeed, surface: fSurface, bed: fBed, flowU: fFlowU, flowV: fFlowV })

// colour key plus the reference arrow
const keyCanvas = document.createElement('canvas')
keyCanvas.width = 490
keyCanvas.height = 40
keyCanvas.style.left = '394px'
keyCanvas.style.top = '10px'
document.body.appendChild(keyCanvas)
new Chart(keyCanvas, {
  type: 'scatter',
  data: { datasets: [] },
  options: {
    responsive: false,
    animation: false,
    layout: { padding: { left: 12, right: 178, top: 4, bottom: 0 } },
    plugins: { legend: { display: false }, tooltip: { enabled: false } },
    scales: {
      x: {
        type: 'linear',
        min: 0.75,
        max: 2.25,
        afterBuildTicks: s => { s.ticks = speedLevels.map(v => ({ value: v })) },
        afterFit: s => { s.height = 18; s.paddingLeft = 0; s.paddingRight = 0 },
        grid: { display: false, drawTicks: false },
        border: { display: false },
        ticks: { color: '#222', padding: 3, maxRotation: 0, autoSkip: false, callback: v => String(+v.toFixed(1)), font: { family: 'Liberation Sans', size: 11.5 } }
      },
      y: { display: false, min: 0, max: 1 }
    }
  },
  plugins: [{
    id: 'colorKey',
    afterDraw (chart) {
      const { ctx, chartArea, scales: { x } } = chart
      ctx.strokeStyle = '#222'
      ctx.lineWidth = 1.2
      ctx.strokeRect(0.5, 0.5, 330, 38.5)
      const edges = [x.min, ...speedLevels, x.max]
      speedColors.forEach((c, k) => {
        const x0 = x.getPixelForValue(edges[k])
        const x1 = x.getPixelForValue(edges[k + 1])
        ctx.fillStyle = c
        ctx.fillRect(x0, chartArea.top, x1 - x0, chartArea.height)
        ctx.lineWidth = 0.8
        ctx.strokeStyle = '#111'
        ctx.strokeRect(x0, chartArea.top, x1 - x0, chartArea.height)
      })
      // reference arrow for keySpeed
      ctx.strokeStyle = '#000'
      ctx.lineWidth = 1.6
      ctx.beginPath()
      ctx.moveTo(476, 14)
      ctx.lineTo(476 - KEY_ARROW_PX, 14)
      ctx.moveTo(476 - KEY_ARROW_PX + 12, 9.5)
      ctx.lineTo(476 - KEY_ARROW_PX, 14)
      ctx.lineTo(476 - KEY_ARROW_PX + 12, 18.5)
      ctx.stroke()
    }
  }]
})

// free text
const addText = (cls, html, x, y, extra) => {
  const d = document.createElement('div')
  d.className = 't ' + cls
  d.innerHTML = html
  d.style.left = x + 'px'
  d.style.top = y + 'px'
  if (extra) d.style.cssText += extra
  document.body.appendChild(d)
}

addText('unit', '(m/s)', 754, 34, 'font-size:18px')
addText('unit', '(m/s)', 911, 36, 'font-size:18px')
addText('', String(keySpeed), 876, 40, 'font:bold 20px "Liberation Sans"')

addText('jp', '平均水位', 164, 77)
addText('jp', '電磁流速計', 390, 74)
addText('jp', '護岸', 589, 77)
addText('jp', '平均水位', 164, 284)
addText('jp', '電磁流速計', 390, 278)
addText('jp', '護岸', 589, 284)
addText('jp', '平均水位', 164, 483)
addText('jp', '護岸', 589, 483)
addText('jp', '護岸', 1263, 77)
addText('jp', '護岸', 1263, 286)
addText('jp', '護岸', 1263, 482)

addText('sec', '断面<i>c</i>', 108, 187)
addText('sec', '断面<i>e</i>', 108, 393)
addText('sec', '断面<i>f</i>', 110, 603)
addText('sec', '断面<i>c</i>', 783, 187)
addText('sec', '断面<i>e</i>', 783, 394)
addText('sec', '断面<i>f</i>', 786, 603)

;[[15, 78], [15, 282], [15, 493], [689, 76], [689, 283], [689, 488]].forEach(([x, y]) => {
  addText('unit', '(m)', x, y, 'font-size:15px;transform:translate(-50%,-50%) rotate(-90deg)')
})
;[[632, 240], [633, 447], [632, 658], [1306, 240], [1306, 447], [1307, 658]].forEach(([x, y]) => {
  addText('unit', '(m)', x, y)
})

addText('cap', '<span>(a)</span>実測結果', 324, 704)
addText('cap', '<span>(b)</span>解析結果', 1021, 704)
</script>
</body>
</html>
